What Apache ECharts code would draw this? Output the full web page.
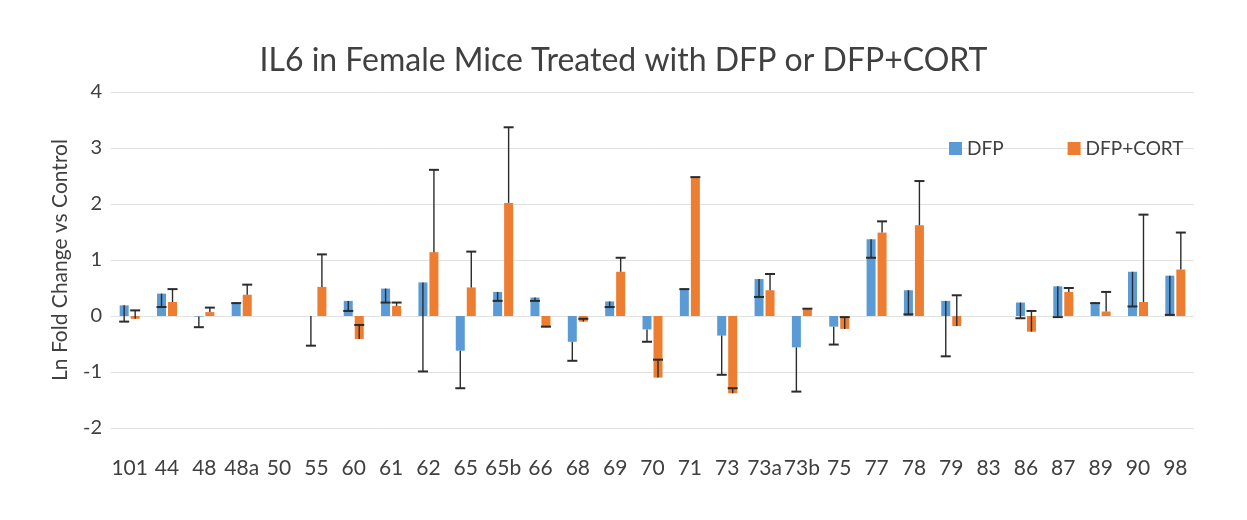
<!DOCTYPE html>
<html>
<head>
<meta charset="utf-8">
<script src="https://cdn.jsdelivr.net/npm/echarts@6/dist/echarts.min.js"></script>
<style>
html,body{margin:0;padding:0;background:#fff;}
#chart{width:1247px;height:520px;}
</style>
</head>
<body>
<div id="chart"></div>
<script>
const categories = ['101','44','48','48a','50','55','60','61','62','65','65b','66','68','69','70','71','73','73a','73b','75','77','78','79','83','86','87','89','90','98'];
const dfp = [0.19,0.40,-0.01,0.24,null,0.0,0.27,0.49,0.60,-0.62,0.43,0.33,-0.46,0.26,-0.24,0.49,-0.35,0.66,-0.56,-0.19,1.37,0.46,0.27,null,0.24,0.53,0.24,0.79,0.72];
const dfpErrMinus = [0.29,0.24,0.19,0.01,null,0.53,0.18,0.25,1.59,0.67,0.16,0.06,0.34,0.10,0.22,0.01,0.70,0.32,0.79,0.32,0.33,0.43,0.99,null,0.28,0.55,0.01,0.62,0.70];
const cort = [-0.05,0.25,0.07,0.38,null,0.52,-0.41,0.18,1.14,0.51,2.02,-0.20,-0.10,0.79,-1.10,2.47,-1.38,0.46,0.12,-0.23,1.49,1.62,-0.18,null,-0.28,0.43,0.08,0.25,0.83];
const cortErrPlus = [0.15,0.23,0.08,0.18,null,0.58,0.25,0.06,1.47,0.64,1.35,0.01,0.05,0.25,0.32,0.01,0.09,0.29,0.01,0.21,0.20,0.79,0.55,null,0.37,0.07,0.35,1.56,0.66];
const yTicks = [-2,-1,0,1,2,3,4];

const BAR_W = 9, GAP = 2;
const offDFP = -(BAR_W + GAP) / 2, offCORT = (BAR_W + GAP) / 2;

function errData(vals, errs, sign) {
  const out = [];
  vals.forEach((v, i) => {
    if (v === null || errs[i] === null) return;
    out.push([i, v, v + sign * errs[i]]);
  });
  return out;
}

function makeErrRender(offset) {
  return function (params, api) {
    const i = api.value(0);
    const p1 = api.coord([i, api.value(1)]);
    const p2 = api.coord([i, api.value(2)]);
    const x = p1[0] + offset;
    const cap = 5;
    return {
      type: 'group',
      children: [
        { type: 'line', shape: { x1: x, y1: p1[1], x2: x, y2: p2[1] }, style: { stroke: '#2b2b2b', lineWidth: 1.4 } },
        { type: 'line', shape: { x1: x - cap, y1: p2[1], x2: x + cap, y2: p2[1] }, style: { stroke: '#2b2b2b', lineWidth: 2 } }
      ]
    };
  };
}

const chart = echarts.init(document.getElementById('chart'));
chart.setOption({
  animation: false,
  backgroundColor: '#fff',
  title: {
    text: 'IL6 in Female Mice Treated with DFP or DFP+CORT',
    left: 'center',
    top: 40,
    textStyle: { fontFamily: 'Lato', fontSize: 32, fontWeight: 'normal', color: '#404040' }
  },
  legend: {
    left: 944, top: 134,
    itemWidth: 13, itemHeight: 13, itemGap: 64,
    icon: 'rect',
    textStyle: { fontFamily: 'Lato', fontSize: 19, color: '#404040' },
    data: ['DFP', 'DFP+CORT']
  },
  grid: { left: 111, right: 53, top: 92, bottom: 92 },
  xAxis: {
    type: 'category',
    data: categories,
    axisLine: { show: false, onZero: false },
    axisTick: { show: false },
    axisLabel: { fontFamily: 'Lato', fontSize: 21, color: '#404040', margin: 30, interval: 0 }
  },
  yAxis: {
    type: 'value',
    min: -2, max: 4, interval: 1,
    name: 'Ln Fold Change vs Control',
    nameLocation: 'middle',
    nameGap: 40,
    nameTextStyle: { fontFamily: 'Lato', fontSize: 21, color: '#404040' },
    axisLine: { show: false },
    axisTick: { show: false },
    splitLine: { lineStyle: { color: '#e2e2e2', width: 1 } },
    axisLabel: { fontFamily: 'Lato', fontSize: 20, color: '#404040', margin: 9,
      customValues: yTicks }
  },
  series: [
    { name: 'DFP', type: 'bar', data: dfp, barWidth: BAR_W, barGap: (GAP / BAR_W * 100) + '%',
      itemStyle: { color: '#5B9BD5' } },
    { name: 'DFP+CORT', type: 'bar', data: cort, barWidth: BAR_W,
      itemStyle: { color: '#ED7D31' } },
    { type: 'custom', renderItem: makeErrRender(offDFP), data: errData(dfp, dfpErrMinus, -1), z: 10,
      encode: { x: 0, y: [1, 2] } },
    { type: 'custom', renderItem: makeErrRender(offCORT), data: errData(cort, cortErrPlus, 1), z: 10,
      encode: { x: 0, y: [1, 2] } }
  ]
});
</script>
</body>
</html>
